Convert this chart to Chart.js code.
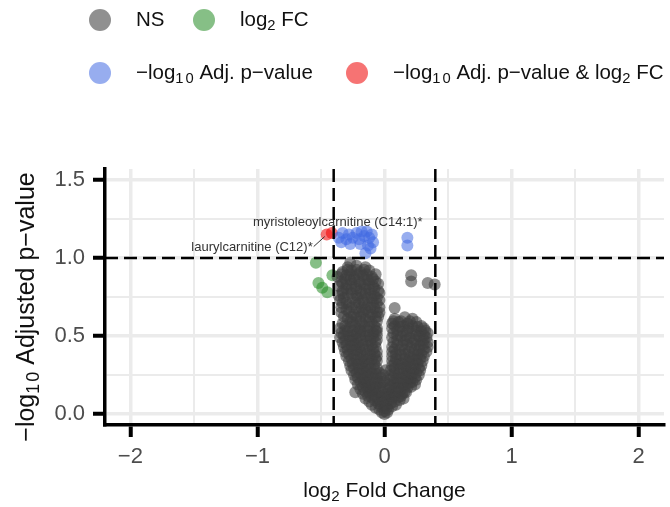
<!DOCTYPE html>
<html>
<head>
<meta charset="utf-8">
<title>Volcano plot</title>
<script src="https://cdn.jsdelivr.net/npm/chart.js@4.4.0/dist/chart.umd.min.js"></script>
<style>
  html, body { margin: 0; padding: 0; background: #fff; }
  canvas { display: block; }
</style>
</head>
<body>
<canvas id="volcanoChart" width="670" height="507"></canvas>
<script>
// log2 fold change / -log10 adjusted p-value
const nsPoints = [
  [0.00,0.00],[-0.02,0.01],[0.02,0.01],
  [-0.04,0.03],[0.00,0.02],[0.03,0.03],[0.00,0.04],
  [-0.07,0.04],[-0.03,0.05],[0.02,0.04],[0.06,0.05],
  [-0.10,0.06],[-0.05,0.07],[0.00,0.06],[0.05,0.07],[0.09,0.06],
  [-0.12,0.08],[-0.08,0.09],[-0.03,0.08],[0.03,0.09],[0.08,0.08],[0.12,0.09],[-0.01,0.09],
  [-0.15,0.10],[-0.10,0.11],[-0.05,0.10],[0.01,0.11],[0.06,0.10],[0.11,0.11],[0.15,0.10],
  [-0.13,0.115],[-0.08,0.115],[-0.03,0.115],[0.03,0.115],[0.08,0.115],[0.13,0.115],
  [-0.17,0.13],[-0.12,0.14],[-0.07,0.13],[-0.02,0.14],[0.04,0.13],[0.09,0.14],[0.14,0.13],[0.17,0.14],[0.01,0.13],
  [-0.15,0.145],[-0.10,0.145],[-0.05,0.145],[0.06,0.145],[0.11,0.145],[0.16,0.145],
  [-0.23,0.14],
  [-0.19,0.16],[-0.14,0.17],[-0.09,0.16],[-0.04,0.17],[0.03,0.16],[0.08,0.17],[0.13,0.16],[0.18,0.17],[-0.01,0.17],
  [-0.17,0.175],[-0.12,0.175],[-0.07,0.175],[0.05,0.175],[0.11,0.175],[0.16,0.175],[0.21,0.175],
  [-0.21,0.19],[-0.16,0.20],[-0.11,0.19],[-0.05,0.20],[0.04,0.19],[0.10,0.20],[0.15,0.19],[0.20,0.20],[0.24,0.19],
  [-0.19,0.205],[-0.14,0.205],[-0.08,0.205],[-0.02,0.205],[0.07,0.205],[0.13,0.205],[0.18,0.205],[0.22,0.205],[0.00,0.21],
  [-0.23,0.22],[-0.17,0.23],[-0.12,0.22],[-0.06,0.23],[0.04,0.22],[0.10,0.23],[0.16,0.22],[0.21,0.23],[0.25,0.22],
  [-0.21,0.235],[-0.15,0.235],[-0.09,0.235],[-0.03,0.235],[0.07,0.235],[0.13,0.235],[0.19,0.235],[0.24,0.235],
  [-0.24,0.25],[-0.19,0.26],[-0.13,0.25],[-0.07,0.26],[0.05,0.25],[0.11,0.26],[0.17,0.25],[0.22,0.26],[0.27,0.25],[-0.01,0.25],
  [-0.22,0.265],[-0.16,0.265],[-0.10,0.265],[-0.04,0.265],[0.08,0.265],[0.14,0.265],[0.20,0.265],[0.25,0.265],
  [-0.26,0.28],[-0.20,0.29],[-0.14,0.28],[-0.08,0.29],[0.05,0.28],[0.12,0.29],[0.18,0.28],[0.24,0.29],[0.28,0.28],[0.01,0.28],
  [-0.24,0.295],[-0.17,0.295],[-0.11,0.295],[-0.06,0.295],[0.08,0.295],[0.15,0.295],[0.21,0.295],[0.27,0.295],
  [-0.27,0.31],[-0.21,0.32],[-0.15,0.31],[-0.08,0.32],[0.06,0.31],[0.11,0.32],[0.17,0.31],[0.23,0.32],[0.29,0.31],
  [-0.25,0.325],[-0.18,0.325],[-0.12,0.325],[0.08,0.325],[0.14,0.325],[0.20,0.325],[0.26,0.325],
  [-0.28,0.34],[-0.22,0.35],[-0.16,0.34],[-0.10,0.35],[-0.06,0.34],[0.06,0.34],[0.12,0.35],[0.19,0.34],[0.25,0.35],[0.30,0.34],
  [-0.26,0.355],[-0.19,0.355],[-0.13,0.355],[-0.07,0.355],[0.09,0.355],[0.16,0.355],[0.22,0.355],[0.28,0.355],
  [-0.30,0.37],[-0.24,0.38],[-0.17,0.37],[-0.11,0.38],[-0.06,0.37],[0.06,0.37],[0.13,0.38],[0.20,0.37],[0.26,0.38],[0.31,0.37],
  [-0.28,0.385],[-0.21,0.385],[-0.14,0.385],[-0.08,0.385],[0.09,0.385],[0.16,0.385],[0.23,0.385],[0.29,0.385],
  [-0.31,0.40],[-0.25,0.41],[-0.19,0.40],[-0.12,0.41],[-0.06,0.40],[0.06,0.40],[0.12,0.41],[0.19,0.40],[0.27,0.41],[0.33,0.40],
  [-0.29,0.415],[-0.22,0.415],[-0.16,0.415],[-0.09,0.415],[0.08,0.415],[0.16,0.415],[0.24,0.415],[0.31,0.415],
  [-0.32,0.43],[-0.26,0.44],[-0.20,0.43],[-0.13,0.44],[-0.07,0.43],[0.06,0.43],[0.14,0.44],[0.21,0.43],[0.28,0.44],[0.34,0.43],
  [-0.30,0.445],[-0.23,0.445],[-0.17,0.445],[-0.10,0.445],[0.10,0.445],[0.18,0.445],[0.25,0.445],[0.31,0.445],
  [-0.33,0.46],[-0.27,0.47],[-0.21,0.46],[-0.14,0.47],[-0.07,0.46],[0.07,0.46],[0.15,0.47],[0.22,0.46],[0.29,0.47],[0.34,0.46],
  [-0.31,0.475],[-0.25,0.475],[-0.18,0.475],[-0.11,0.475],[-0.06,0.475],[0.10,0.475],[0.17,0.475],[0.24,0.475],[0.31,0.475],
  [-0.35,0.49],[-0.28,0.50],[-0.22,0.49],[-0.15,0.50],[-0.09,0.49],[0.06,0.49],[0.13,0.50],[0.20,0.49],[0.27,0.50],[0.33,0.49],
  [-0.32,0.505],[-0.25,0.505],[-0.19,0.505],[-0.12,0.505],[-0.06,0.505],[0.10,0.505],[0.17,0.505],[0.25,0.505],[0.31,0.505],
  [-0.34,0.52],[-0.29,0.53],[-0.22,0.52],[-0.16,0.53],[-0.09,0.52],[-0.06,0.53],[0.07,0.52],[0.14,0.53],[0.22,0.52],[0.29,0.53],[0.34,0.52],
  [-0.31,0.535],[-0.25,0.535],[-0.19,0.535],[-0.13,0.535],[-0.07,0.535],[0.10,0.535],[0.18,0.535],[0.25,0.535],[0.32,0.535],
  [-0.35,0.55],[-0.27,0.56],[-0.20,0.55],[-0.12,0.56],[-0.06,0.55],[0.06,0.55],[0.12,0.56],[0.19,0.55],[0.26,0.56],[0.31,0.55],
  [-0.31,0.565],[-0.23,0.565],[-0.16,0.565],[-0.08,0.565],[0.08,0.565],[0.15,0.565],[0.22,0.565],[0.29,0.565],
  [-0.33,0.58],[-0.25,0.59],[-0.18,0.58],[-0.10,0.59],[0.06,0.58],[0.11,0.59],[0.18,0.58],[0.25,0.59],
  [-0.27,0.595],[-0.19,0.595],[-0.12,0.595],[-0.06,0.595],[0.07,0.595],[0.13,0.595],[0.20,0.595],
  [-0.29,0.61],[-0.22,0.62],[-0.15,0.61],[-0.07,0.62],[0.08,0.61],[0.16,0.62],[0.22,0.61],
  [-0.32,0.625],[-0.26,0.625],[-0.19,0.625],[-0.12,0.625],[-0.05,0.625],
  [-0.34,0.65],[-0.24,0.64],[-0.17,0.65],[-0.10,0.64],[-0.04,0.65],
  [-0.28,0.655],[-0.20,0.655],[-0.13,0.655],[-0.06,0.655],
  [-0.30,0.67],[-0.22,0.68],[-0.15,0.67],[-0.08,0.68],[0.08,0.68],
  [-0.34,0.685],[-0.26,0.685],[-0.18,0.685],[-0.11,0.685],[-0.04,0.685],
  [-0.33,0.71],[-0.28,0.70],[-0.20,0.71],[-0.13,0.70],[-0.06,0.71],
  [-0.30,0.715],[-0.23,0.715],[-0.16,0.715],[-0.09,0.715],
  [-0.35,0.73],[-0.25,0.74],[-0.17,0.73],[-0.10,0.74],[-0.04,0.73],
  [-0.32,0.745],[-0.21,0.745],[-0.13,0.745],[-0.06,0.745],
  [-0.36,0.76],[-0.29,0.77],[-0.22,0.76],[-0.15,0.77],[-0.08,0.76],
  [-0.33,0.775],[-0.26,0.775],[-0.18,0.775],[-0.11,0.775],[-0.04,0.775],
  [-0.33,0.79],[-0.26,0.80],[-0.19,0.79],[-0.12,0.80],[-0.05,0.79],
  [-0.30,0.805],[-0.22,0.805],[-0.15,0.805],[-0.08,0.805],
  [-0.36,0.82],[-0.30,0.83],[-0.23,0.82],[-0.16,0.83],[-0.09,0.82],
  [-0.33,0.835],[-0.26,0.835],[-0.19,0.835],[-0.12,0.835],[-0.05,0.835],
  [-0.34,0.85],[-0.27,0.86],[-0.20,0.85],[-0.13,0.86],[-0.07,0.85],
  [-0.31,0.865],[-0.24,0.865],[-0.16,0.865],[-0.09,0.865],
  [-0.37,0.88],[-0.30,0.89],[-0.24,0.88],[-0.17,0.89],[-0.10,0.88],
  [-0.34,0.895],[-0.27,0.895],[-0.21,0.895],[-0.14,0.895],[-0.07,0.895],
  [-0.33,0.91],[-0.26,0.92],[-0.19,0.91],[-0.12,0.92],
  [-0.29,0.925],[-0.22,0.925],[-0.16,0.925],
  [-0.29,0.94],[-0.22,0.95],[-0.15,0.94],
  [-0.27,0.97],
  [0.21,0.89],[0.21,0.85],[0.34,0.84],[0.395,0.83]
];
const fcPoints = [[-0.54,0.97],[-0.52,0.84],[-0.49,0.81],[-0.45,0.78],[-0.41,0.89]];
const pPoints = [
  [-0.36,1.13],[-0.33,1.16],[-0.30,1.12],[-0.28,1.15],[-0.25,1.13],[-0.22,1.16],[-0.20,1.12],
  [-0.18,1.17],[-0.16,1.14],[-0.14,1.17],[-0.12,1.13],[-0.10,1.15],[-0.09,1.10],[-0.13,1.08],
  [-0.19,1.09],[-0.27,1.09],[-0.34,1.10],[-0.15,1.03],[-0.11,1.06],[0.18,1.13],[0.18,1.08]
];
const bothPoints = [[-0.455,1.15],[-0.415,1.16]];
const bothNames = ['laurylcarnitine (C12)*', 'myristoleoylcarnitine (C14:1)*'];

const fcCutoff = 0.4;
const pCutoff = 1.0;

const xMajor = [-2, -1, 0, 1, 2];
const xMinor = [-1.5, -0.5, 0.5, 1.5];
const yMajor = [0, 0.5, 1, 1.5];
const yMinor = [0.25, 0.75, 1.25];

const FONT = '"Liberation Sans", Arial, sans-serif';
const colNS = 'rgba(64,64,64,0.58)';
const colFC = 'rgba(34,139,34,0.55)';
const colP = 'rgba(65,105,225,0.55)';
const colBoth = 'rgba(238,0,0,0.55)';

const LOG10 = [{t: '−log'}, {t: '1', sub: true}, {t: '0', sub: true, gap: 2}];
const LOG2 = [{t: 'log'}, {t: '2', sub: true}];

function drawRich(ctx, parts, x, y, size, align) {
  let subSize = size * 0.72;
  let total = 0;
  let widths = parts.map(p => {
    ctx.font = (p.sub ? subSize : size) + 'px ' + FONT;
    let w = ctx.measureText(p.t).width + (p.gap || 0);
    total += w;
    return w;
  });
  let cx = align === 'center' ? x - total / 2 : x;
  ctx.textAlign = 'left';
  ctx.textBaseline = 'middle';
  parts.forEach((p, i) => {
    ctx.font = (p.sub ? subSize : size) + 'px ' + FONT;
    ctx.fillText(p.t, cx + (p.gap || 0), y + (p.sub ? size * 0.3 : 0));
    cx += widths[i];
  });
}

function toXY(list) {
  return list.map(p => ({x: p[0], y: p[1]}));
}

function minusFmt(v) {
  return v < 0 ? '−' + Math.abs(v) : String(v);
}

// threshold lines, point labels, legend and axis titles
const extrasPlugin = {
  id: 'extras',
  afterDatasetsDraw(chart) {
    let ctx = chart.ctx;
    let xs = chart.scales.x, ys = chart.scales.y;
    let area = chart.chartArea;
    ctx.save();
    ctx.strokeStyle = '#000';
    ctx.lineWidth = 2.5;
    ctx.setLineDash([13, 6]);
    [-fcCutoff, fcCutoff].forEach(v => {
      let px = xs.getPixelForValue(v);
      ctx.beginPath();
      ctx.moveTo(px, area.top);
      ctx.lineTo(px, area.bottom);
      ctx.stroke();
    });
    let py = ys.getPixelForValue(pCutoff);
    ctx.beginPath();
    ctx.moveTo(area.left, py);
    ctx.lineTo(area.right, py);
    ctx.stroke();
    ctx.setLineDash([]);

    // labels of the red points
    let p0x = xs.getPixelForValue(bothPoints[0][0]), p0y = ys.getPixelForValue(bothPoints[0][1]);
    let p1x = xs.getPixelForValue(bothPoints[1][0]), p1y = ys.getPixelForValue(bothPoints[1][1]);
    ctx.fillStyle = '#333';
    ctx.font = '13px ' + FONT;
    ctx.textBaseline = 'middle';
    ctx.textAlign = 'right';
    ctx.fillText(bothNames[0], p0x - 14, p0y + 13);
    ctx.textAlign = 'center';
    ctx.fillText(bothNames[1], p1x + 6, p1y - 11);
    ctx.strokeStyle = '#333';
    ctx.lineWidth = 1;
    ctx.beginPath();
    ctx.moveTo(p0x - 13, p0y + 12);
    ctx.lineTo(p0x - 2, p0y + 2);
    ctx.stroke();
    ctx.restore();
  },
  afterDraw(chart) {
    let ctx = chart.ctx;
    let area = chart.chartArea;
    ctx.save();
    // legend
    let items = [
      {c: colNS, x: 100, y: 20, parts: [{t: 'NS'}]},
      {c: colFC, x: 204, y: 20, parts: LOG2.concat([{t: ' FC'}])},
      {c: colP, x: 100, y: 73, parts: LOG10.concat([{t: ' Adj. p−value'}])},
      {c: colBoth, x: 357, y: 73, parts: LOG10.concat([{t: ' Adj. p−value & '}], LOG2, [{t: ' FC'}])}
    ];
    items.forEach(it => {
      ctx.fillStyle = it.c;
      ctx.beginPath();
      ctx.arc(it.x, it.y, 11, 0, Math.PI * 2);
      ctx.fill();
      ctx.fillStyle = '#111';
      drawRich(ctx, it.parts, it.x + 36, it.y, 20.5, 'left');
    });

    // axis titles
    ctx.fillStyle = '#111';
    drawRich(ctx, LOG2.concat([{t: ' Fold Change'}]), (area.left + area.right) / 2, 491, 21, 'center');
    ctx.translate(27, (area.top + area.bottom) / 2 + 10);
    ctx.rotate(-Math.PI / 2);
    drawRich(ctx, LOG10.concat([{t: ' Adjusted p−value'}]), 0, 0, 25, 'center');
    ctx.restore();
  }
};

let volcanoChart = new Chart(document.getElementById('volcanoChart'), {
  type: 'scatter',
  data: {
    datasets: [
      {label: 'NS', data: toXY(nsPoints), backgroundColor: colNS},
      {label: 'log2 FC', data: toXY(fcPoints), backgroundColor: colFC},
      {label: '-log10 Adj. p-value', data: toXY(pPoints), backgroundColor: colP},
      {label: '-log10 Adj. p-value & log2 FC', data: toXY(bothPoints), backgroundColor: colBoth}
    ]
  },
  options: {
    responsive: false,
    animation: false,
    events: [],
    layout: {padding: {top: 169, right: 6, left: 0, bottom: 0}},
    elements: {point: {radius: 6, borderWidth: 0, hoverRadius: 6}},
    plugins: {
      legend: {display: false},
      tooltip: {enabled: false}
    },
    scales: {
      x: {
        type: 'linear',
        min: -2.2,
        max: 2.2,
        afterBuildTicks: s => { s.ticks = xMajor.concat(xMinor).sort((a, b) => a - b).map(v => ({value: v})); },
        afterFit: s => { s.height = 82; },
        border: {color: '#000', width: 3.5},
        grid: {
          color: '#ebebeb',
          lineWidth: c => xMajor.includes(c.tick.value) ? 3.5 : 2,
          drawTicks: true,
          tickLength: 12,
          tickWidth: 4,
          tickColor: c => xMajor.includes(c.tick.value) ? '#000' : 'rgba(0,0,0,0)'
        },
        ticks: {
          autoSkip: false,
          maxRotation: 0,
          padding: 7,
          color: '#4d4d4d',
          font: {family: FONT, size: 22},
          callback: v => xMajor.includes(v) ? minusFmt(v) : ''
        }
      },
      y: {
        type: 'linear',
        min: -0.07,
        max: 1.57,
        afterBuildTicks: s => { s.ticks = yMajor.concat(yMinor).sort((a, b) => a - b).map(v => ({value: v})); },
        afterFit: s => { s.width = 105; },
        border: {color: '#000', width: 3.5},
        grid: {
          color: '#ebebeb',
          lineWidth: c => yMajor.includes(c.tick.value) ? 3.5 : 2,
          drawTicks: true,
          tickLength: 12,
          tickWidth: 4,
          tickColor: c => yMajor.includes(c.tick.value) ? '#000' : 'rgba(0,0,0,0)'
        },
        ticks: {
          autoSkip: false,
          padding: 8,
          color: '#4d4d4d',
          font: {family: FONT, size: 22},
          callback: v => yMajor.includes(v) ? v.toFixed(1) : ''
        }
      }
    }
  },
  plugins: [extrasPlugin]
});
</script>
</body>
</html>
